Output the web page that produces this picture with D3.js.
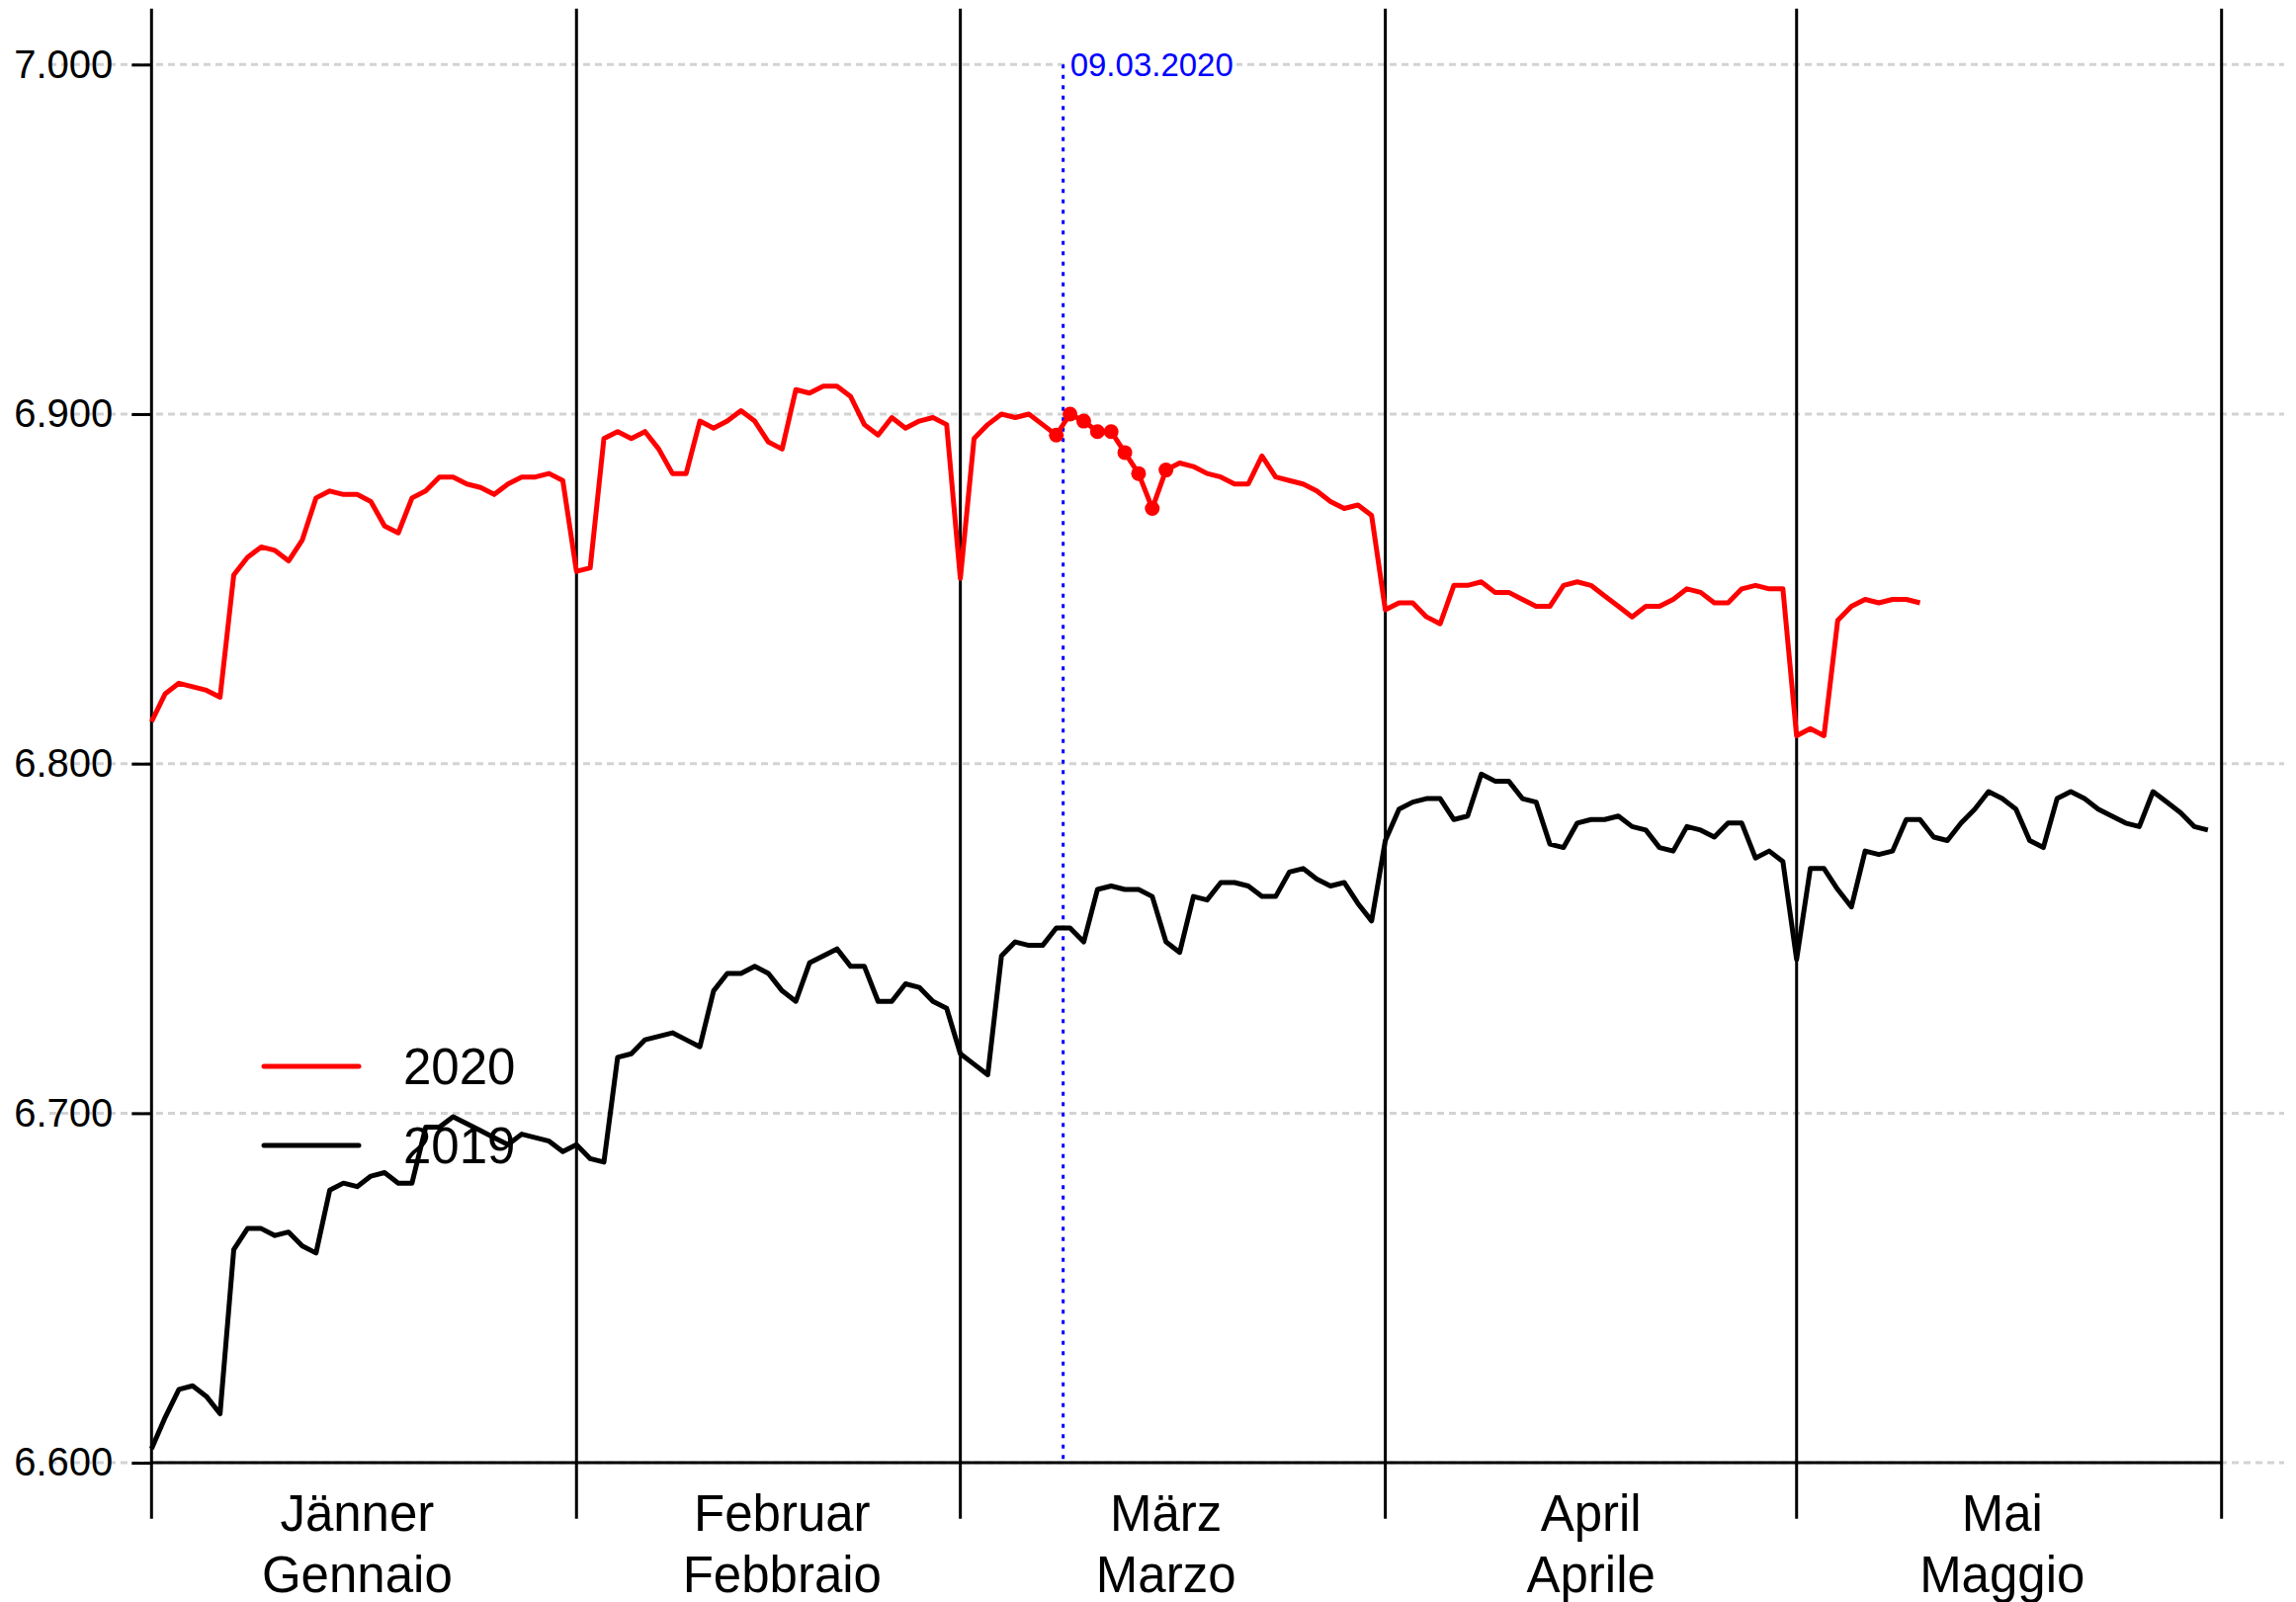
<!DOCTYPE html>
<html><head><meta charset="utf-8">
<script src="https://cdn.jsdelivr.net/npm/d3@7"></script>
<style>
body{margin:0;background:#fff}
svg{display:block;background:#fff}
text{font-family:"Liberation Sans",Arial,Helvetica,sans-serif}
</style>
</head><body><svg id="c" width="2323" height="1621"></svg>
<script>
// ---- data ----
const monthStarts = [0, 31, 59, 90, 120, 151];
const monthLabelsDe = ["Jänner", "Februar", "März", "April", "Mai"];
const monthLabelsIt = ["Gennaio", "Febbraio", "Marzo", "Aprile", "Maggio"];
const yTicks = [6600, 6700, 6800, 6900, 7000];
const seriesNames = ["2020", "2019"];
const seriesColors = ["#ff0000", "#000000"];

const values2020 = [
6812,6820,6823,6822,6821,6819,6854,6859,6862,6861,6858,6864,6876,6878,6877,6877,6875,6868,6866,6876,
6878,6882,6882,6880,6879,6877,6880,6882,6882,6883,6881,6855,6856,6893,6895,6893,6895,6890,6883,6883,
6898,6896,6898,6901,6898,6892,6890,6907,6906,6908,6908,6905,6897,6894,6899,6896,6898,6899,6897,6853,
6893,6897,6900,6899,6900,6897,6894,6900,6898,6895,6895,6889,6883,6873,6884,6886,6885,6883,6882,6880,
6880,6888,6882,6881,6880,6878,6875,6873,6874,6871,6844,6846,6846,6842,6840,6851,6851,6852,6849,6849,
6847,6845,6845,6851,6852,6851,6848,6845,6842,6845,6845,6847,6850,6849,6846,6846,6850,6851,6850,6850,
6808,6810,6808,6841,6845,6847,6846,6847,6847,6846
];
const values2019 = [
6604,6613,6621,6622,6619,6614,6661,6667,6667,6665,6666,6662,6660,6678,6680,6679,6682,6683,6680,6680,
6696,6696,6699,6697,6695,6693,6691,6694,6693,6692,6689,6691,6687,6686,6716,6717,6721,6722,6723,6721,
6719,6735,6740,6740,6742,6740,6735,6732,6743,6745,6747,6742,6742,6732,6732,6737,6736,6732,6730,6717,
6714,6711,6745,6749,6748,6748,6753,6753,6749,6764,6765,6764,6764,6762,6749,6746,6762,6761,6766,6766,
6765,6762,6762,6769,6770,6767,6765,6766,6760,6755,6778,6787,6789,6790,6790,6784,6785,6797,6795,6795,
6790,6789,6777,6776,6783,6784,6784,6785,6782,6781,6776,6775,6782,6781,6779,6783,6783,6773,6775,6772,
6744,6770,6770,6764,6759,6775,6774,6775,6784,6784,6779,6778,6783,6787,6792,6790,6787,6778,6776,6790,
6792,6790,6787,6785,6783,6782,6792,6789,6786,6782,6781
];
const highlightDays = [66, 67, 68, 69, 70, 71, 72, 73, 74];
const markerDay = 66.5;
const markerLabel = "09.03.2020";
const labelDayInMonth = 15;

// ---- layout ----
const W = 2323, H = 1621;
const xRange = [153.3, 2247.7];
const yRange = [1480.1, 65.3];
const gridX = [50, 2311];

const svg = d3.select("#c");
svg.append("rect").attr("width", W).attr("height", H).attr("fill", "#fff");

const x = d3.scaleLinear().domain([0, 151]).range(xRange);
const y = d3.scaleLinear().domain([6600, 7000]).range(yRange);
const yPad = (7000 - 6600) * 0.04;
const regionTop = y(7000 + yPad), regionBottom = y(6600 - yPad);

const loc = d3.formatLocale({decimal: ",", thousands: ".", grouping: [3], currency: ["", "€"]});
const fmt = loc.format(",d");

// gridlines
svg.append("g").selectAll("line").data(yTicks).join("line")
  .attr("x1", gridX[0]).attr("x2", gridX[1])
  .attr("y1", d => y(d)).attr("y2", d => y(d))
  .attr("stroke", "#d3d3d3").attr("stroke-width", 3).attr("stroke-dasharray", "7,5");

// month vertical lines
svg.append("g").selectAll("line").data(monthStarts).join("line")
  .attr("x1", d => x(d)).attr("x2", d => x(d))
  .attr("y1", regionTop).attr("y2", regionBottom)
  .attr("stroke", "#000").attr("stroke-width", 3);

// x axis baseline
svg.append("line")
  .attr("x1", x(monthStarts[0])).attr("x2", x(monthStarts[monthStarts.length - 1]))
  .attr("y1", y(6600)).attr("y2", y(6600))
  .attr("stroke", "#000").attr("stroke-width", 3);

// y axis ticks/labels
const yAxis = d3.axisLeft(y).tickValues(yTicks).tickSize(20).tickPadding(19).tickFormat(fmt);
const gy = svg.append("g").attr("transform", `translate(${x(0)},0)`).call(yAxis);
gy.select(".domain").remove();
gy.selectAll(".tick line").attr("stroke", "#000").attr("stroke-width", 3);
gy.selectAll(".tick text").attr("font-size", 40).attr("fill", "#000")
  .attr("font-family", '"Liberation Sans",Arial,sans-serif');

// month labels
const gm = svg.append("g");
monthLabelsDe.forEach((lab, k) => {
  const t = gm.append("text").attr("text-anchor", "middle").attr("font-size", 51).attr("fill", "#000");
  t.append("tspan").attr("x", x(monthStarts[k] + labelDayInMonth)).attr("y", 1549).text(lab);
  t.append("tspan").attr("x", x(monthStarts[k] + labelDayInMonth)).attr("y", 1611).text(monthLabelsIt[k]);
});

// marker line
svg.append("line")
  .attr("x1", x(markerDay)).attr("x2", x(markerDay))
  .attr("y1", y(7000)).attr("y2", y(6600))
  .attr("stroke", "#0000ff").attr("stroke-width", 3).attr("stroke-dasharray", "4,6.5");
const gmk = svg.append("g");
const mrect = gmk.append("rect").attr("fill", "#fff");
const mt = gmk.append("text").attr("x", x(markerDay) + 7).attr("y", y(7000))
  .attr("dy", "0.35em").attr("font-size", 33).attr("fill", "#0000ff").text(markerLabel);
const bb = mt.node().getBBox();
mrect.attr("x", bb.x - 3).attr("y", bb.y + 2).attr("width", bb.width + 6).attr("height", bb.height - 4);

// legend
const legendY = [1079, 1159];
const gl = svg.append("g");
seriesNames.forEach((n, k) => {
  gl.append("line").attr("x1", 267).attr("x2", 363).attr("y1", legendY[k]).attr("y2", legendY[k])
    .attr("stroke", seriesColors[k]).attr("stroke-width", 5).attr("stroke-linecap", "round");
  gl.append("text").attr("x", 408).attr("y", legendY[k]).attr("dy", "0.35em")
    .attr("font-size", 51).attr("fill", "#000").text(n);
});

// series lines
const line = d3.line().x((d, i) => x(i)).y(d => y(d));
svg.append("path").datum(values2019).attr("d", line)
  .attr("fill", "none").attr("stroke", seriesColors[1]).attr("stroke-width", 5).attr("stroke-linejoin", "round");
svg.append("path").datum(values2020).attr("d", line)
  .attr("fill", "none").attr("stroke", seriesColors[0]).attr("stroke-width", 5).attr("stroke-linejoin", "round");

// highlighted points
svg.append("g").selectAll("circle").data(highlightDays).join("circle")
  .attr("cx", d => x(d)).attr("cy", d => y(values2020[d])).attr("r", 7.5).attr("fill", seriesColors[0]);
</script>
</body></html>
